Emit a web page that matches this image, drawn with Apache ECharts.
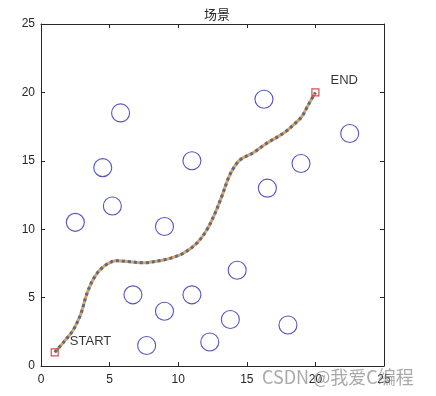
<!DOCTYPE html>
<html><head><meta charset="utf-8">
<script src="https://cdn.jsdelivr.net/npm/echarts@6/dist/echarts.min.js"></script>
<style>html,body{margin:0;padding:0;background:#fff}#c{width:436px;height:396px}</style>
</head><body><div id="c"></div>
<script>
const titleText = '场景';
const obstacleX = [2.5, 4.5, 5.8, 5.2, 6.7, 7.7, 9.0, 9.0, 11.0, 11.0, 12.3, 13.8, 14.3, 16.25, 16.5, 18.0, 18.95, 22.5];
const obstacleY = [10.5, 14.5, 18.5, 11.7, 5.2, 1.5, 10.2, 4.0, 15.0, 5.2, 1.75, 3.4, 7.0, 19.5, 13.0, 3.0, 14.8, 17.0];
const pathX = [1.0, 1.7, 2.35, 2.9, 3.35, 3.9, 4.6, 5.52, 6.49, 7.46, 8.91, 9.4, 10.37, 11.35, 12.08, 12.68, 13.17, 13.65, 14.02, 14.5, 15.47, 16.45, 17.66, 18.39, 19.0, 19.48, 20.0];
const pathY = [1.0, 1.8, 2.63, 3.8, 5.3, 6.5, 7.3, 7.7, 7.62, 7.55, 7.75, 7.87, 8.24, 8.97, 9.94, 11.16, 12.38, 13.72, 14.45, 15.06, 15.59, 16.28, 17.01, 17.62, 18.22, 19.08, 20.0];
const startPt = [1, 1];
const endPt = [20, 20];
const startLabel = 'START';
const endLabel = 'END';
const startLabelPos = [2.1, 1.8];
const endLabelPos = [21.1, 20.9];
const axisMin = 0, axisMax = 25, axisStep = 5;
const watermark = 'CSDN @我爱C编程';

const chart = echarts.init(document.getElementById('c'));
const font = "'Liberation Sans', Arial, Helvetica, sans-serif";
const axColor = '#262626';
const pathData = pathX.map((x, i) => [x, pathY[i]]);
const obsData = obstacleX.map((x, i) => [x, obstacleY[i]]);
function mkAxis(pos, showLabel, isY) {
  return {
    type: 'value', position: pos, min: axisMin, max: axisMax, interval: axisStep,
    axisLine: { show: true, onZero: false, lineStyle: { color: axColor, width: 1 } },
    axisTick: { show: true, inside: true, length: 4, lineStyle: { color: axColor } },
    axisLabel: { show: showLabel, color: axColor, fontFamily: font, fontSize: 12, margin: isY ? 6 : 8 },
    splitLine: { show: false }
  };
}
chart.setOption({
  animation: false,
  backgroundColor: '#fff',
  title: { text: titleText, left: 212, top: 3, textAlign: 'center',
    textStyle: { fontFamily: "'Noto Sans CJK SC', sans-serif", fontSize: 13, fontWeight: 'normal', color: axColor } },
  grid: { left: 41, right: 52, top: 24, bottom: 30 },
  xAxis: [mkAxis('bottom', true, false), mkAxis('top', false, false)],
  yAxis: [mkAxis('left', true, true), mkAxis('right', false, true)],
  series: [
    { type: 'scatter', data: obsData, symbol: 'circle', symbolSize: 18,
      itemStyle: { color: 'rgba(0,0,0,0)', borderColor: '#2a2aae', borderWidth: 1.1 }, z: 2 },
    { type: 'line', data: pathData, smooth: 0.35, symbol: 'none',
      lineStyle: { color: '#d9a36a', width: 3 }, z: 3 },
    { type: 'line', data: pathData, smooth: 0.35, symbol: 'none',
      lineStyle: { color: '#5d6a80', width: 3, type: [3, 3] }, z: 4 },
    { type: 'scatter', data: [startPt, endPt], symbol: 'rect', symbolSize: 7,
      itemStyle: { color: 'rgba(0,0,0,0)', borderColor: '#c0282c', borderWidth: 1.2 }, z: 5 },
    { type: 'scatter', data: [startLabelPos, endLabelPos], symbolSize: 0, z: 6,
      label: { show: true, position: 'right', distance: 0, color: '#000', fontFamily: font, fontSize: 13,
        formatter: p => p.dataIndex === 0 ? startLabel : endLabel } }
  ],
  graphic: [{ type: 'text', left: 262, top: 368, z: 100,
    style: { text: watermark, fill: 'rgba(140,140,140,0.75)', fontSize: 18, fontFamily: "'Noto Sans CJK SC', sans-serif" } }]
});
</script></body></html>
